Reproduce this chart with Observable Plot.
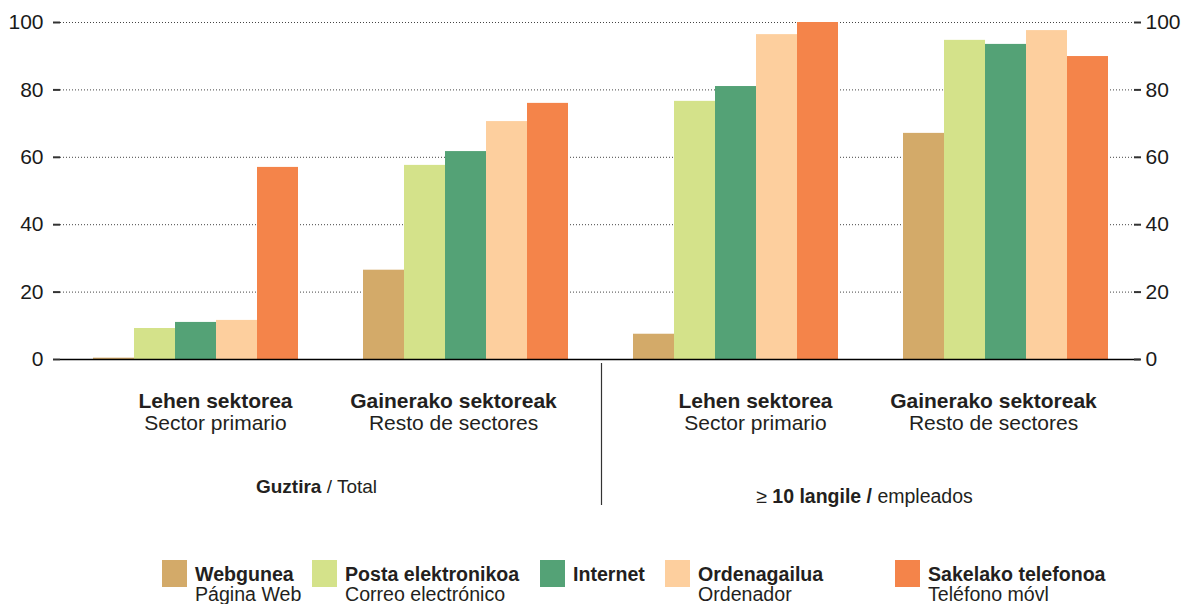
<!DOCTYPE html>
<html>
<head>
<meta charset="utf-8">
<script src="https://cdn.jsdelivr.net/npm/d3@7"></script>
<script src="https://cdn.jsdelivr.net/npm/@observablehq/plot@0.6"></script>
<style>
  body { margin: 0; background: #fff; font-family: "Liberation Sans", Arial, sans-serif; color: #231f20; }
  #chart { width: 1181px; }
  .legend { display: grid; grid-template-columns: 150px 228px 125px 230px auto; margin-left: 162px; margin-top: 45px; }
  .item { display: flex; align-items: flex-start; }
  .sw { width: 25px; height: 27px; margin-right: 8px; flex: none; }
  .lbl { font-size: 19.6px; line-height: 20px; padding-top: 4px; white-space: nowrap; }
  .lbl b { display: block; }
</style>
</head>
<body>
<div id="chart"></div>
<script>
// ---- data ----
const groupKeys = ["Guztira · Lehen sektorea", "Guztira · Gainerako sektoreak", "≥10 · Lehen sektorea", "≥10 · Gainerako sektoreak"];
const groupSector = [0, 1, 0, 1];
const sectorsEu = ["Lehen sektorea", "Gainerako sektoreak"];
const sectorsEs = ["Sector primario", "Resto de sectores"];
const scopeLabels = ["Guztira / Total", "≥ 10 langile / empleados"];
const scopeParts = [
  [["Guztira", true], [" / Total", false]],
  [["≥ ", false], ["10 langile /", true], [" empleados", false]]
];
const seriesEu = ["Webgunea", "Posta elektronikoa", "Internet", "Ordenagailua", "Sakelako telefonoa"];
const seriesEs = ["Página Web", "Correo electrónico", "", "Ordenador", "Teléfono móvl"];
const colors = ["#d3aa69", "#d4e28a", "#54a276", "#fdcf9e", "#f4844a"];
const webgunea     = [0.4, 26.5, 7.5, 67.1];
const posta        = [9.2, 57.6, 76.6, 94.7];
const internet     = [11.0, 61.7, 81.0, 93.5];
const ordenagailua = [11.6, 70.6, 96.4, 97.6];
const sakelako     = [57.0, 76.0, 100, 89.9];
const yTicks = [0, 20, 40, 60, 80, 100];

// ---- table ----
const seriesValues = [webgunea, posta, internet, ordenagailua, sakelako];
const table = [];
groupKeys.forEach((g, gi) => {
  seriesEu.forEach((s, si) => table.push({group: g, series: s, value: seriesValues[si][gi]}));
});
const groupRows = groupKeys.map((g, i) => ({key: g, eu: sectorsEu[groupSector[i]], es: sectorsEs[groupSector[i]], sector: groupSector[i]}));
const lehenRows = groupRows.filter(d => d.sector === 0);
const gainRows = groupRows.filter(d => d.sector === 1);

const font = '"Liberation Sans", Arial, sans-serif';
const H = 515;

const plot = Plot.plot({
  width: 1181,
  height: H,
  marginLeft: 60,
  marginRight: 41,
  marginTop: 22,
  marginBottom: 156,
  style: {fontFamily: font, fontSize: "20px", color: "#231f20", background: "#fff", overflow: "visible"},
  fx: {domain: groupKeys, padding: 0, axis: null, label: null},
  x: {domain: seriesEu, paddingInner: 0, paddingOuter: 0.74, axis: null},
  y: {domain: [0, 100], axis: null},
  color: {domain: seriesEu, range: colors},
  marks: [
    Plot.ruleY(yTicks.filter(d => d > 0), {stroke: "#444", strokeDasharray: "1,2", strokeWidth: 1}),
    Plot.barY(table, {fx: "group", x: "series", y: "value", fill: "series"}),
    Plot.ruleY([0], {stroke: "#000", strokeWidth: 1.5}),
    Plot.axisY({anchor: "left", ticks: yTicks, tickSize: 7, tickPadding: 10, stroke: "#333", strokeWidth: 2, fontSize: 21, fill: "#1a1a1a", label: null}),
    Plot.axisY({anchor: "right", ticks: yTicks, tickSize: -7, tickPadding: 12, stroke: "#333", strokeWidth: 2, fontSize: 21, fill: "#1a1a1a", label: null}),
    // sector labels
    Plot.text(lehenRows, {fx: "key", text: "eu", frameAnchor: "bottom", lineAnchor: "bottom", dy: 48, dx: 20, fontWeight: "bold", fontSize: 21, fill: "#231f20"}),
    Plot.text(lehenRows, {fx: "key", text: "es", frameAnchor: "bottom", lineAnchor: "bottom", dy: 70, dx: 20, fontSize: 21, fill: "#231f20"}),
    Plot.text(gainRows, {fx: "key", text: "eu", frameAnchor: "bottom", lineAnchor: "bottom", dy: 48, dx: -12, fontWeight: "bold", fontSize: 21, fill: "#231f20"}),
    Plot.text(gainRows, {fx: "key", text: "es", frameAnchor: "bottom", lineAnchor: "bottom", dy: 70, dx: -12, fontSize: 21, fill: "#231f20"}),
    // scope labels
    Plot.text([{key: groupKeys[0], label: scopeLabels[0]}], {fx: "key", text: "label", frameAnchor: "bottom-right", textAnchor: "middle", lineAnchor: "bottom", dy: 133, dx: -14, fontSize: 19, fill: "#231f20"}),
    Plot.text([{key: groupKeys[2], label: scopeLabels[1]}], {fx: "key", text: "label", frameAnchor: "bottom-right", textAnchor: "middle", lineAnchor: "bottom", dy: 143, dx: -6, fontSize: 19.5, fill: "#231f20"})
  ]
});

// rich text for scope labels
const svg = d3.select(plot.tagName.toLowerCase() === "svg" ? plot : plot.querySelector("svg"));
svg.selectAll("text").each(function() {
  const idx = scopeLabels.indexOf(this.textContent);
  if (idx < 0) return;
  const el = d3.select(this);
  el.text(null);
  scopeParts[idx].forEach(([t, b]) => {
    el.append("tspan").attr("font-weight", b ? "bold" : "normal").text(t);
  });
});

// separator between the two scopes, placed with the fx scale
const fxs = plot.scale("fx");
const ys = plot.scale("y");
let xSep;
if (fxs.apply) xSep = fxs.apply(groupKeys[2]);
else xSep = d3.scaleBand(fxs.domain, fxs.range).paddingInner(fxs.paddingInner || 0).paddingOuter(fxs.paddingOuter || 0)(groupKeys[2]);
const y0 = ys.apply ? ys.apply(0) : ys.range[0];
svg.append("line")
  .attr("x1", xSep + 1.5).attr("x2", xSep + 1.5)
  .attr("y1", y0 + 4).attr("y2", H - 10)
  .attr("stroke", "#333").attr("stroke-width", 1.2);

document.getElementById("chart").appendChild(plot);

// legend
const legend = d3.select("body").append("div").attr("class", "legend");
seriesEu.forEach((s, i) => {
  const it = legend.append("div").attr("class", "item");
  it.append("div").attr("class", "sw").style("background", colors[i]);
  const l = it.append("div").attr("class", "lbl");
  l.append("b").text(s);
  if (seriesEs[i]) l.append("span").text(seriesEs[i]);
});
</script>
</body>
</html>
